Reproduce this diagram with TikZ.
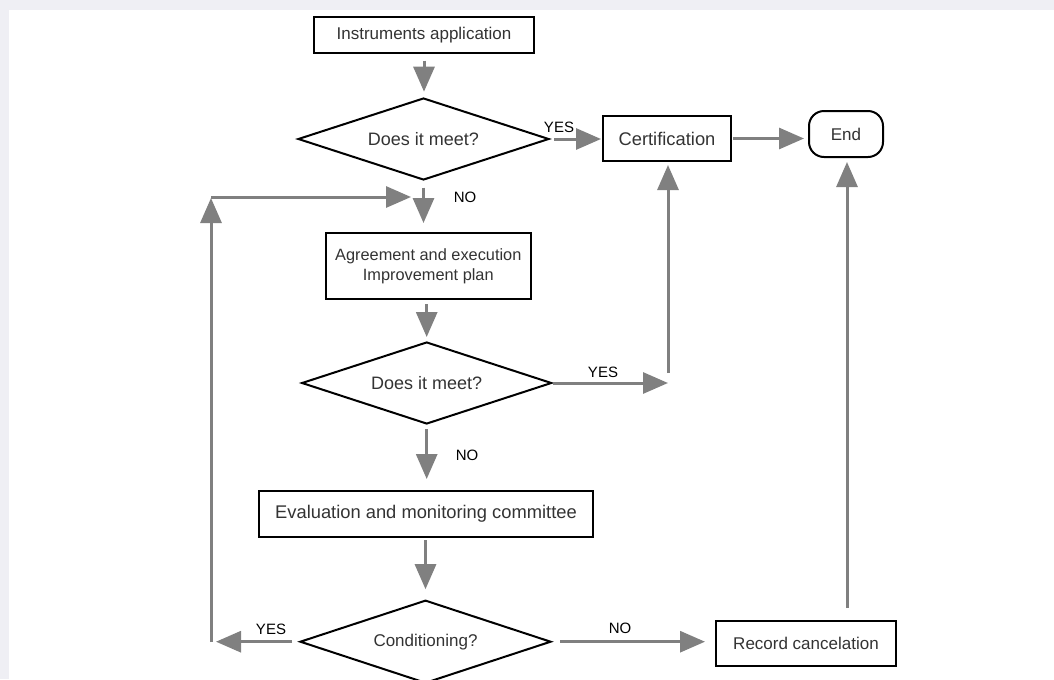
\documentclass[tikz,border=0pt]{standalone}
\usepackage{fontspec}
\setmainfont{Liberation Sans}
\usetikzlibrary{arrows.meta,shapes.geometric,calc}
\definecolor{framebg}{HTML}{EFEFF4}
\definecolor{arrgray}{HTML}{808080}
\definecolor{txtgray}{HTML}{333333}
\tikzset{
  box/.style={draw=black, line width=1.5pt, rectangle, inner sep=0pt, align=center,
    text=txtgray, font=\fontsize{12.75pt}{15pt}\selectfont},
  dia/.style={draw=black, line width=1.5pt, diamond, aspect=3, inner sep=0pt, align=center,
    text=txtgray, font=\fontsize{13.5pt}{15pt}\selectfont},
  arr/.style={draw=arrgray, line width=2.25pt, -{Triangle[length=18.75pt, width=15.75pt]}},
  lbl/.style={text=black, font=\fontsize{11.25pt}{13pt}\selectfont, inner sep=0pt}
}
\begin{document}
\begin{tikzpicture}[x=0.75pt, y=-0.75pt]
\useasboundingbox (0,0) rectangle (1054,679);
\fill[framebg] (0,0) rectangle (1054,679);
\fill[white] (9,10) rectangle (1054,679);

% nodes
\node[box, minimum width=165pt, minimum height=27pt] (inst) at (424,35) {Instruments application};
\node[dia, minimum width=188.25pt, minimum height=61.5pt] (d1) at (423.5,139) {Does it meet?};
\node[box, minimum width=96pt, minimum height=33.75pt, font=\fontsize{13.75pt}{15pt}\selectfont] (cert) at (667,138.5) {Certification};
\node[box, rounded corners=11.25pt, minimum width=55.5pt, minimum height=34.5pt] (endn) at (846,134) {End};
\node[box, minimum width=153.75pt, minimum height=49.5pt, font=\fontsize{12.25pt}{15pt}\selectfont] (agree) at (428.3,266) {Agreement and execution\\Improvement plan};
\node[dia, minimum width=187.5pt, minimum height=61.5pt] (d2) at (426.7,383) {Does it meet?};
\node[box, minimum width=250.5pt, minimum height=34.5pt, font=\fontsize{13.75pt}{15pt}\selectfont] (eval) at (426,514) {Evaluation and monitoring committee};
\node[dia, minimum width=188.25pt, minimum height=62.25pt, font=\fontsize{12.75pt}{15pt}\selectfont] (d3) at (425.5,641.7) {Conditioning?};
\node[box, minimum width=135pt, minimum height=33.75pt] (rec) at (806,643.5) {Record cancelation};

% free ends
\coordinate (c2) at (668,384);
\coordinate (c2top) at (668,373);
\coordinate (lbot) at (211,642);
\coordinate (ltop) at (211,198);
\coordinate (lcorner) at (211,197);
\coordinate (ltarget) at (411,197);
\coordinate (rtop) at (847,608);

% connectors
\draw[arr, shorten <=5pt, shorten >=4pt] (inst.south) -- (inst.south |- d1.north);
\draw[arr, shorten <=3pt, shorten >=0.75pt] (d1.east) -- (d1.east -| cert.west);
\draw[arr, shorten <=0.75pt, shorten >=3pt] (cert.east) -- (cert.east -| endn.west);
\draw[arr, shorten <=5pt, shorten >=6.75pt] (d1.south) -- (d1.south |- agree.north);
\draw[arr, shorten <=3pt, shorten >=3pt] (d2.north |- agree.south) -- (d2.north);
\draw[arr, shorten <=0pt] (d2.east) -- (d2.east -| c2);
\draw[arr, shorten >=2.25pt] (c2top) -- (c2top |- cert.south);
\draw[arr, shorten <=3pt, shorten >=8.25pt] (d2.south) -- (d2.south |- eval.north);
\draw[arr, shorten <=1.5pt, shorten >=7.5pt] (d3.north |- eval.south) -- (d3.north);
\draw[arr, shorten <=5.25pt, shorten >=3.75pt] (d3.west) -- (d3.west -| lbot);
\draw[arr] (lbot) -- (ltop);
\draw[arr] (lcorner) -- (ltarget);
\draw[arr, shorten <=6pt, shorten >=7.5pt] (d3.east) -- (d3.east -| rec.west);
\draw[arr, shorten >=3pt] (rtop) -- (rtop |- endn.south);

% labels
\node[lbl] (yes1) at (559,127) {YES};
\node[lbl] (no1) at (465,197) {NO};
\node[lbl] (yes2) at (603,372) {YES};
\node[lbl] (no2) at (467,455) {NO};
\node[lbl] (yes3) at (271,629) {YES};
\node[lbl] (no3) at (620,628) {NO};
\end{tikzpicture}
\end{document}
